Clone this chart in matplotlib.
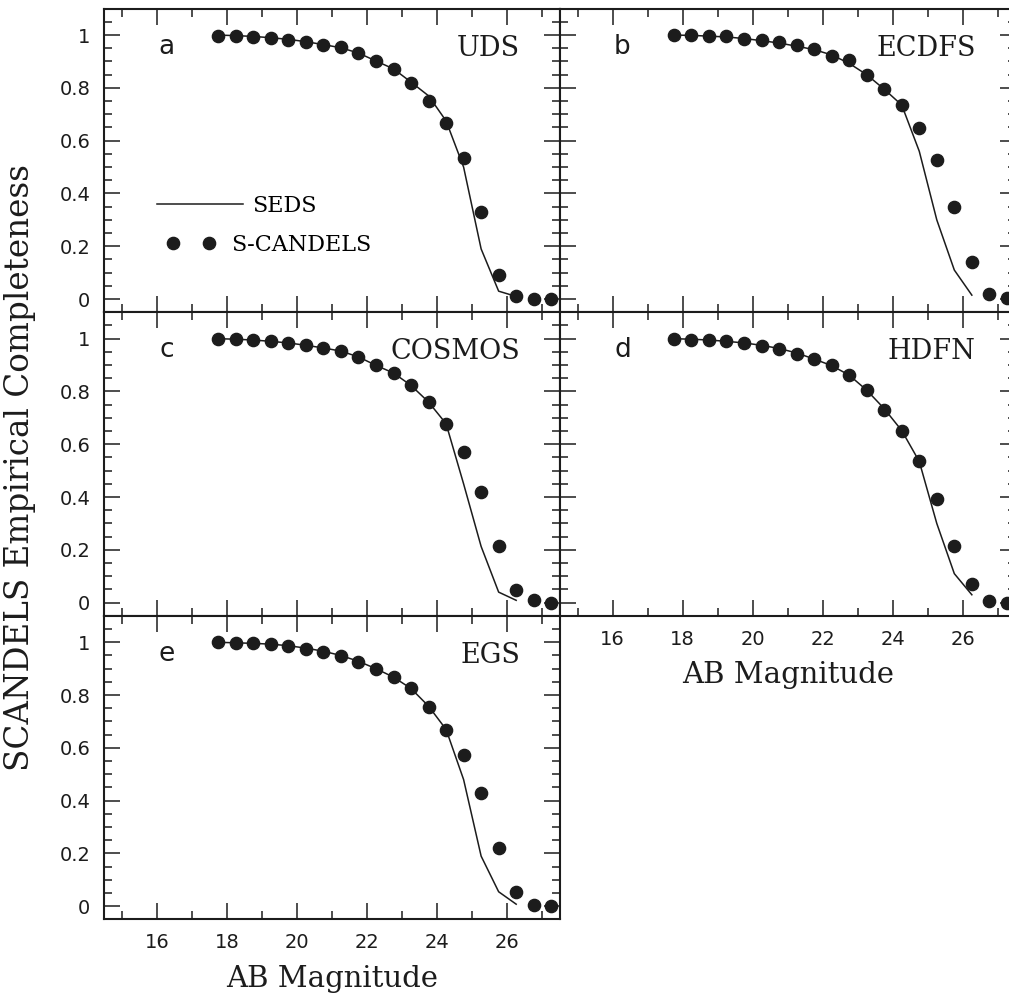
import matplotlib
matplotlib.use("Agg")
import matplotlib.pyplot as plt
from matplotlib.ticker import MultipleLocator, FuncFormatter

# Magnitude bins (S-CANDELS points) and SEDS curve nodes
mag = [17.75, 18.25, 18.75, 19.25, 19.75, 20.25, 20.75, 21.25, 21.75, 22.25,
       22.75, 23.25, 23.75, 24.25, 24.75, 25.25, 25.75, 26.25, 26.75, 27.25]
mag_seds = [17.75, 18.25, 18.75, 19.25, 19.75, 20.25, 20.75, 21.25, 21.75,
            22.25, 22.75, 23.25, 23.75, 24.25, 24.75, 25.25, 25.75, 26.25]

fields = ['UDS', 'ECDFS', 'COSMOS', 'HDFN', 'EGS']
letters = ['a', 'b', 'c', 'd', 'e']

# S-CANDELS empirical completeness
scandels_uds = [0.997, 0.997, 0.994, 0.989, 0.983, 0.974, 0.962, 0.955, 0.932, 0.900,
                0.870, 0.817, 0.752, 0.666, 0.533, 0.330, 0.090, 0.013, 0.002, 0.0]
scandels_ecdfs = [1.0, 1.0, 0.995, 0.995, 0.985, 0.980, 0.972, 0.962, 0.949, 0.922,
                  0.907, 0.847, 0.797, 0.737, 0.649, 0.525, 0.347, 0.140, 0.019, 0.003]
scandels_cosmos = [1.0, 0.997, 0.995, 0.990, 0.984, 0.975, 0.965, 0.953, 0.931, 0.899,
                   0.870, 0.823, 0.760, 0.678, 0.571, 0.419, 0.215, 0.049, 0.011, 0.0]
scandels_hdfn = [1.0, 0.996, 0.996, 0.990, 0.983, 0.973, 0.962, 0.943, 0.922, 0.899,
                 0.864, 0.807, 0.731, 0.649, 0.535, 0.394, 0.213, 0.072, 0.006, 0.0]
scandels_egs = [1.0, 0.996, 0.996, 0.992, 0.987, 0.975, 0.965, 0.948, 0.926, 0.899,
                0.870, 0.826, 0.754, 0.668, 0.572, 0.428, 0.221, 0.053, 0.006, 0.001]

# SEDS completeness curves
seds_uds = [1.0, 0.998, 0.995, 0.990, 0.984, 0.975, 0.964, 0.952, 0.932, 0.902,
            0.872, 0.822, 0.770, 0.675, 0.500, 0.190, 0.030, 0.010]
seds_ecdfs = [1.0, 0.999, 0.996, 0.993, 0.987, 0.979, 0.970, 0.958, 0.945, 0.925,
              0.893, 0.850, 0.795, 0.735, 0.560, 0.300, 0.110, 0.015]
seds_cosmos = [1.0, 0.998, 0.995, 0.990, 0.984, 0.975, 0.965, 0.953, 0.931, 0.899,
               0.870, 0.823, 0.760, 0.678, 0.450, 0.213, 0.040, 0.009]
seds_hdfn = [1.0, 0.998, 0.995, 0.990, 0.984, 0.975, 0.963, 0.946, 0.923, 0.898,
             0.862, 0.805, 0.735, 0.652, 0.535, 0.300, 0.110, 0.030]
seds_egs = [1.0, 0.998, 0.996, 0.993, 0.987, 0.978, 0.966, 0.950, 0.928, 0.900,
            0.868, 0.825, 0.758, 0.670, 0.480, 0.190, 0.055, 0.008]

scandels = [scandels_uds, scandels_ecdfs, scandels_cosmos, scandels_hdfn, scandels_egs]
seds = [seds_uds, seds_ecdfs, seds_cosmos, seds_hdfn, seds_egs]

ink = '#1c1c1c'
serif = 'DejaVu Serif'

fig = plt.figure(figsize=(10.09, 9.94), dpi=100)

col_x = [0.1034, 0.5550]
row_y = [0.68582, 0.38039, 0.07496]
w, h = 0.4516, 0.30543
# panel layout: a b / c d / e
slots = [(0, 0), (1, 0), (0, 1), (1, 1), (0, 2)]

for i, (c, r) in enumerate(slots):
    ax = fig.add_axes([col_x[c], row_y[r], w, h])
    line, = ax.plot(mag_seds, seds[i], color=ink, lw=1.1, zorder=2)
    pts, = ax.plot(mag, scandels[i], 'o', color=ink, ms=8.8, mec=ink, zorder=3)

    ax.set_xlim(14.5, 27.5)
    ax.set_ylim(-0.05, 1.1)
    ax.xaxis.set_major_locator(MultipleLocator(2))
    ax.xaxis.set_minor_locator(MultipleLocator(1))
    ax.yaxis.set_major_locator(MultipleLocator(0.2))
    ax.yaxis.set_minor_locator(MultipleLocator(0.05))
    ax.yaxis.set_major_formatter(FuncFormatter(lambda v, _: '0' if abs(v) < 1e-9 else f'{v:g}'))

    ax.tick_params(which='both', direction='in', top=True, right=True,
                   width=1.1, labelsize=14, pad=10, colors=ink)
    ax.tick_params(which='major', length=11.5)
    ax.tick_params(which='minor', length=5.8)
    for s in ax.spines.values():
        s.set_linewidth(1.5)
        s.set_color(ink)

    ax.tick_params(labelleft=(c == 0))
    bottom_of_col = (c == 0 and r == 2) or (c == 1 and r == 1)
    ax.tick_params(labelbottom=bottom_of_col)
    if bottom_of_col:
        ax.set_xlabel('AB Magnitude', family=serif, fontsize=21, color=ink, labelpad=9)

    ax.text(0.137, 0.875, letters[i], transform=ax.transAxes, fontsize=19,
            ha='center', va='center', color=ink)
    ax.text(0.912, 0.870, fields[i], transform=ax.transAxes, fontsize=19.5,
            family=serif, ha='right', va='center', color=ink)

    if i == 0:
        leg1 = ax.legend([line], ['SEDS'], loc='center left',
                         bbox_to_anchor=(0.115, 0.350), frameon=False,
                         borderpad=0, borderaxespad=0, handlelength=3.9,
                         handletextpad=0.38, prop={'family': serif, 'size': 16})
        ax.add_artist(leg1)
        ax.legend([pts], ['S-CANDELS'], loc='center left', numpoints=2,
                  bbox_to_anchor=(0.137, 0.222), frameon=False,
                  borderpad=0, borderaxespad=0, handlelength=2.18,
                  handletextpad=0.71, prop={'family': serif, 'size': 16})

fig.text(20 / 1009, 1 - 468 / 994, 'SCANDELS Empirical Completeness',
         rotation=90, ha='center', va='center', family=serif, fontsize=23.5, color=ink)

fig.savefig('out.png', dpi=100)
